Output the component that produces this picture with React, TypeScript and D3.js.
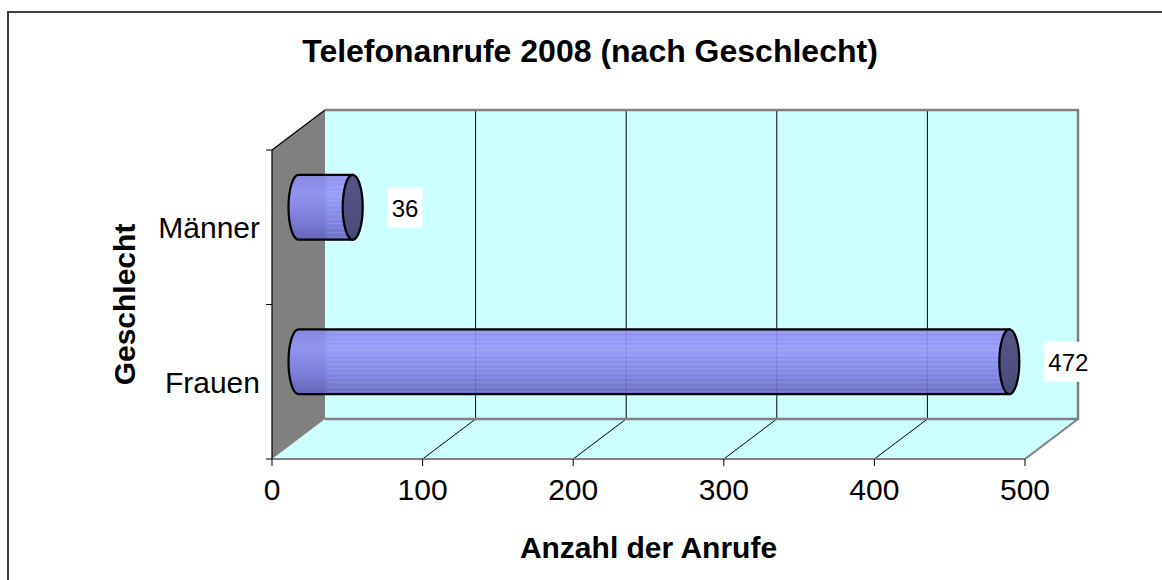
import React from "react";
import * as d3 from "d3";

const categories = ["Männer", "Frauen"];
const values = [36, 472];
const xTicks = [0, 100, 200, 300, 400, 500];
const title = "Telefonanrufe 2008 (nach Geschlecht)";
const xTitle = "Anzahl der Anrufe";
const yTitle = "Geschlecht";

const W = 1162;
const H = 580;
const FONT = "'Liberation Sans', Arial, Helvetica, sans-serif";

export default function App() {
  const x0 = 272, x1 = 1025, yTop = 150, yBot = 459;
  const dx = 53, dy = -40;
  const x = d3.scaleLinear().domain([0, 500]).range([x0, x1]);
  const y = d3.scaleBand<string>().domain(categories).range([yTop, yBot]);
  const mx = dx / 2, my = dy / 2;
  const barH = y.bandwidth() * 0.42;
  const rx = 10;
  const ry = barH / 2;

  const floor = `M${x0},${yBot} L${x1},${yBot} L${x1 + dx},${yBot + dy} L${x0 + dx},${yBot + dy} Z`;
  const back = `M${x0 + dx},${yTop + dy} L${x1 + dx},${yTop + dy} L${x1 + dx},${yBot + dy} L${x0 + dx},${yBot + dy} Z`;
  const leftWall = `M${x0},${yTop} L${x0 + dx},${yTop + dy} L${x0 + dx},${yBot + dy} L${x0},${yBot} Z`;

  const stripes = d3.range(0, 1, 0.07);

  return (
    <svg width={W} height={H} style={{ position: "absolute", left: 0, top: 0, background: "#fff" }} fontFamily={FONT}>
      <defs>
        <linearGradient id="body" x1="0" y1="0" x2="0" y2="1">
          <stop offset="0" stopColor="#8a8aec" />
          <stop offset="0.3" stopColor="#9494fa" />
          <stop offset="0.7" stopColor="#7c7ce0" />
          <stop offset="1" stopColor="#6262bc" />
        </linearGradient>
        <linearGradient id="cap" x1="0" y1="0" x2="0" y2="1">
          <stop offset="0" stopColor="#55558a" />
          <stop offset="1" stopColor="#4a4a7a" />
        </linearGradient>
      </defs>
      <rect x={8} y={12} width={1200} height={620} fill="#fff" stroke="#404040" strokeWidth={2} />

      {/* walls */}
      <path d={back} fill="#ccffff" />
      <path d={floor} fill="#ccffff" />
      <path d={leftWall} fill="#808080" />
      {xTicks.slice(1, -1).map((t) => (
        <g key={t}>
          <line x1={x(t) + dx} x2={x(t) + dx} y1={yTop + dy} y2={yBot + dy} stroke="#000" strokeWidth={1} />
          <line x1={x(t)} y1={yBot} x2={x(t) + dx} y2={yBot + dy} stroke="#000" strokeWidth={1} />
        </g>
      ))}
      <path d={`M${x0 + dx},${yTop + dy} L${x1 + dx},${yTop + dy} L${x1 + dx},${yBot + dy} L${x0 + dx},${yBot + dy}`} fill="none" stroke="#808080" strokeWidth={2.5} />
      <path d={`M${x0},${yBot} L${x1},${yBot} L${x1 + dx},${yBot + dy}`} fill="none" stroke="#808080" strokeWidth={2} />
      <line x1={x0} y1={yTop} x2={x0 + dx} y2={yTop + dy} stroke="#000" strokeWidth={1.2} />

      {/* axes */}
      <line x1={x0} x2={x0} y1={yTop} y2={yBot} stroke="#000" strokeWidth={1.2} />
      {[yTop, yTop + y.step(), yBot].map((v, i) => (
        <line key={i} x1={x0 - 6} x2={x0} y1={v} y2={v} stroke="#000" strokeWidth={1} />
      ))}
      {xTicks.map((t) => (
        <g key={t}>
          <line x1={x(t)} x2={x(t)} y1={yBot} y2={yBot + 7} stroke="#000" strokeWidth={1} />
          <text x={x(t)} y={500} textAnchor="middle" fontSize={30}>{t}</text>
        </g>
      ))}
      {categories.map((c) => (
        <text key={c} x={260} y={(y(c) ?? 0) + y.bandwidth() / 2} dy="0.36em" textAnchor="end" fontSize={30}>{c}</text>
      ))}

      {/* cylinders */}
      {categories.map((c, i) => {
        const cy = (y(c) ?? 0) + y.bandwidth() / 2 + my;
        const xs = x(0) + mx;
        const xe = x(values[i]) + mx;
        const top = cy - ry, bot = cy + ry;
        const bodyPath = `M${xe},${top} L${xs},${top} A${rx},${ry} 0 0 0 ${xs},${bot} L${xe},${bot} Z`;
        const lx = xe + rx + 25;
        const label = String(values[i]);
        const tw = label.length * 0.556 * 24;
        return (
          <g key={c}>
            <path d={bodyPath} fill="url(#body)" fillOpacity={0.92} />
            {stripes.map((s, k) => (
              <line key={k} x1={xs + 30} x2={xe - 4} y1={top + barH * (s + 0.05)} y2={top + barH * (s + 0.05)} stroke="#ffffff" strokeOpacity={0.14} strokeWidth={1} />
            ))}
            <path d={bodyPath} fill="none" stroke="#000" strokeWidth={2.2} />
            <ellipse cx={xe} cy={cy} rx={rx} ry={ry} fill="url(#cap)" stroke="#000" strokeWidth={2.2} />
            <rect x={lx} y={cy - 20} width={tw + 8} height={40} fill="#fff" />
            <text x={lx + 4 + tw / 2} y={cy + 1} dy="0.36em" textAnchor="middle" fontSize={24}>{label}</text>
          </g>
        );
      })}

      {/* titles */}
      <text x={590} y={62} textAnchor="middle" fontSize={32} fontWeight="bold">{title}</text>
      <text x={(x0 + x1) / 2} y={558} textAnchor="middle" fontSize={30} fontWeight="bold">{xTitle}</text>
      <text transform={`translate(135,${(yTop + yBot) / 2}) rotate(-90)`} textAnchor="middle" fontSize={30} fontWeight="bold">{yTitle}</text>
    </svg>
  );
}
